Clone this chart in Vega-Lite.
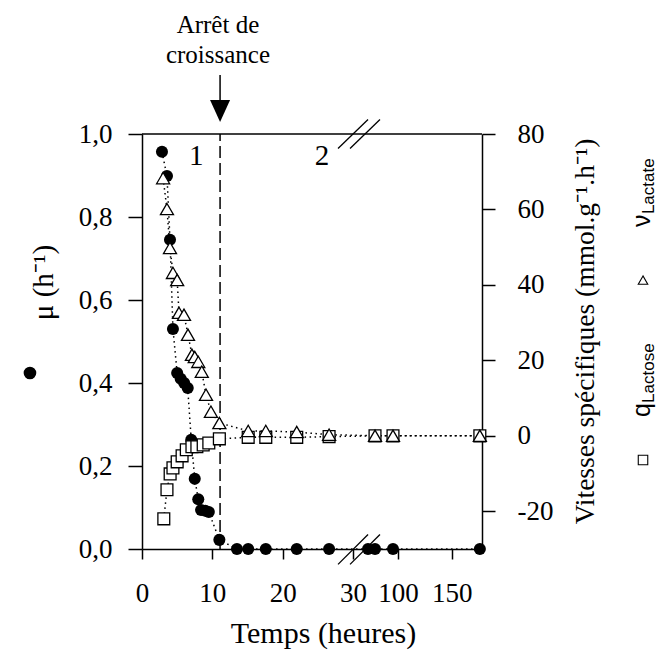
{
  "$schema": "https://vega.github.io/schema/vega-lite/v6.json",
  "width": 340,
  "height": 415,
  "autosize": {"type": "none"},
  "padding": {"left": 142, "top": 134, "right": 176, "bottom": 104},
  "background": "white",
  "data": {"values": [{}]},
  "config": {
    "view": {"stroke": null},
    "axis": {
      "grid": false,
      "domainColor": "black",
      "domainWidth": 1.5,
      "tickColor": "black",
      "tickWidth": 1.5,
      "labelFont": "Liberation Serif",
      "labelFontSize": 27,
      "labelColor": "black",
      "labelFlush": false,
      "labelOverlap": false,
      "labelBound": false,
      "titleFont": "Liberation Serif",
      "titleFontSize": 27,
      "titleFontWeight": "normal",
      "titleColor": "black"
    }
  },
  "datasets": {
    "mu": [
      {"t": 2.84, "mu": 0.957}, {"t": 3.55, "mu": 0.899}, {"t": 3.98, "mu": 0.745},
      {"t": 4.4, "mu": 0.53}, {"t": 5.0, "mu": 0.424}, {"t": 5.5, "mu": 0.41},
      {"t": 6.0, "mu": 0.4}, {"t": 6.5, "mu": 0.388}, {"t": 7.0, "mu": 0.263},
      {"t": 7.5, "mu": 0.169}, {"t": 8.0, "mu": 0.12}, {"t": 8.4, "mu": 0.094},
      {"t": 9.0, "mu": 0.092}, {"t": 9.5, "mu": 0.089}, {"t": 11.0, "mu": 0.022},
      {"t": 13.5, "mu": 0}, {"t": 15.1, "mu": 0}, {"t": 17.6, "mu": 0},
      {"t": 22.0, "mu": 0}, {"t": 26.6, "mu": 0}, {"t": 72.1, "mu": 0},
      {"t": 78.6, "mu": 0}, {"t": 95.3, "mu": 0}, {"t": 176, "mu": 0}
    ],
    "vit": [
      {"t": 3.1, "serie": "qLactose", "v": -22.0}, {"t": 3.55, "serie": "qLactose", "v": -14.3},
      {"t": 4.0, "serie": "qLactose", "v": -10.1}, {"t": 4.4, "serie": "qLactose", "v": -8.5},
      {"t": 5.0, "serie": "qLactose", "v": -6.9}, {"t": 5.7, "serie": "qLactose", "v": -5.3},
      {"t": 6.3, "serie": "qLactose", "v": -3.7}, {"t": 7.1, "serie": "qLactose", "v": -2.9},
      {"t": 7.8, "serie": "qLactose", "v": -2.9}, {"t": 8.7, "serie": "qLactose", "v": -2.4},
      {"t": 9.5, "serie": "qLactose", "v": -1.9}, {"t": 11.0, "serie": "qLactose", "v": -0.8},
      {"t": 15.1, "serie": "qLactose", "v": -0.4}, {"t": 17.6, "serie": "qLactose", "v": -0.4},
      {"t": 22.0, "serie": "qLactose", "v": -0.4}, {"t": 26.6, "serie": "qLactose", "v": -0.2},
      {"t": 78.6, "serie": "qLactose", "v": 0}, {"t": 95.3, "serie": "qLactose", "v": 0},
      {"t": 176, "serie": "qLactose", "v": 0},
      {"t": 3.0, "serie": "vLactate", "v": 68.3}, {"t": 3.55, "serie": "vLactate", "v": 60.1},
      {"t": 3.98, "serie": "vLactate", "v": 49.8}, {"t": 4.4, "serie": "vLactate", "v": 43.2},
      {"t": 5.0, "serie": "vLactate", "v": 41.3}, {"t": 5.26, "serie": "vLactate", "v": 32.6},
      {"t": 5.97, "serie": "vLactate", "v": 32.1}, {"t": 6.54, "serie": "vLactate", "v": 26.8},
      {"t": 7.1, "serie": "vLactate", "v": 21.5}, {"t": 7.5, "serie": "vLactate", "v": 20.9},
      {"t": 8.0, "serie": "vLactate", "v": 19.6}, {"t": 8.5, "serie": "vLactate", "v": 17.0},
      {"t": 9.1, "serie": "vLactate", "v": 10.9}, {"t": 9.8, "serie": "vLactate", "v": 6.4},
      {"t": 11.0, "serie": "vLactate", "v": 3.4}, {"t": 15.1, "serie": "vLactate", "v": 1.3},
      {"t": 17.6, "serie": "vLactate", "v": 1.3}, {"t": 22.0, "serie": "vLactate", "v": 1.0},
      {"t": 26.6, "serie": "vLactate", "v": 0.3}, {"t": 78.6, "serie": "vLactate", "v": 0},
      {"t": 95.3, "serie": "vLactate", "v": 0}, {"t": 176, "serie": "vLactate", "v": 0}
    ]
  },
  "layer": [
    {
      "layer": [
        {
          "data": {"name": "mu"},
          "mark": {"type": "line", "color": "black", "strokeWidth": 1.5, "strokeDash": [1.5, 3.5]},
          "encoding": {
            "x": {
              "field": "t", "type": "quantitative",
              "scale": {"domain": [0, 30, 60, 178], "range": [0, 211, 213, 340], "nice": false, "zero": false},
              "axis": {"values": [0, 10, 20, 30, 100, 150], "labelExpr": "'' + datum.value", "tickSize": 10, "labelPadding": 21,
                       "title": "Temps (heures)", "titleFontSize": 30, "titleX": 181, "titleY": 93, "titleBaseline": "alphabetic", "titleAlign": "center"}
            },
            "y": {
              "field": "mu", "type": "quantitative",
              "scale": {"domain": [0, 1], "nice": false, "zero": false},
              "axis": {"orient": "left", "values": [0, 0.2, 0.4, 0.6, 0.8, 1.0],
                       "labelExpr": "replace(format(datum.value, '.1f'), '.', ',')",
                       "tickSize": 14, "labelPadding": 16,
                       "title": "μ (h⁻¹)", "titleFontSize": 29, "titleAngle": 270, "titleX": -99, "titleY": 148,
                       "titleBaseline": "middle", "titleAlign": "center"}
            }
          }
        },
        {
          "mark": {"type": "rule", "color": "black", "strokeWidth": 1.5, "strokeDash": [12, 5]},
          "encoding": {
            "x": {"datum": 11.1, "type": "quantitative"},
            "y": {"datum": 0, "type": "quantitative"},
            "y2": {"datum": 1}
          }
        },
        {
          "mark": {"type": "rule", "color": "black", "strokeWidth": 1.5},
          "encoding": {
            "x": {"datum": 0, "type": "quantitative"},
            "x2": {"datum": 178},
            "y": {"datum": 1, "type": "quantitative"}
          }
        },
        {
          "mark": {"type": "rule", "color": "black", "strokeWidth": 1.3},
          "encoding": {
            "x": {"datum": 27.87, "type": "quantitative"},
            "x2": {"datum": 72.1},
            "y": {"datum": 0.965, "type": "quantitative"},
            "y2": {"datum": 1.035}
          }
        },
        {
          "mark": {"type": "rule", "color": "black", "strokeWidth": 1.3},
          "encoding": {
            "x": {"datum": 29.58, "type": "quantitative"},
            "x2": {"datum": 83.2},
            "y": {"datum": 0.965, "type": "quantitative"},
            "y2": {"datum": 1.035}
          }
        },
        {
          "mark": {"type": "rule", "color": "black", "strokeWidth": 1.3},
          "encoding": {
            "x": {"datum": 27.87, "type": "quantitative"},
            "x2": {"datum": 72.1},
            "y": {"datum": -0.037, "type": "quantitative"},
            "y2": {"datum": 0.035}
          }
        },
        {
          "mark": {"type": "rule", "color": "black", "strokeWidth": 1.3},
          "encoding": {
            "x": {"datum": 29.58, "type": "quantitative"},
            "x2": {"datum": 83.2},
            "y": {"datum": -0.037, "type": "quantitative"},
            "y2": {"datum": 0.035}
          }
        },
        {
          "data": {"name": "mu"},
          "mark": {"type": "point", "shape": "circle", "filled": true, "color": "black", "size": 145, "opacity": 1},
          "encoding": {
            "x": {"field": "t", "type": "quantitative"},
            "y": {"field": "mu", "type": "quantitative"}
          }
        },
        {
          "mark": {"type": "rule", "color": "black", "strokeWidth": 1.5},
          "encoding": {
            "x": {"datum": 11.1, "type": "quantitative"},
            "y": {"datum": 1.142, "type": "quantitative"},
            "y2": {"datum": 1.06}
          }
        },
        {
          "mark": {"type": "point", "shape": "M-1,-1L1,-1L0,1.2Z", "filled": true, "color": "black", "size": 400, "opacity": 1},
          "encoding": {
            "x": {"datum": 11.1, "type": "quantitative"},
            "y": {"datum": 1.058, "type": "quantitative"}
          }
        },
        {
          "mark": {"type": "text", "font": "Liberation Serif", "fontSize": 25, "align": "center", "baseline": "alphabetic", "color": "black", "text": "Arrêt de"},
          "encoding": {
            "x": {"datum": 10.8, "type": "quantitative"},
            "y": {"datum": 1.243, "type": "quantitative"}
          }
        },
        {
          "mark": {"type": "text", "font": "Liberation Serif", "fontSize": 25, "align": "center", "baseline": "alphabetic", "color": "black", "text": "croissance"},
          "encoding": {
            "x": {"datum": 10.8, "type": "quantitative"},
            "y": {"datum": 1.171, "type": "quantitative"}
          }
        },
        {
          "mark": {"type": "text", "font": "Liberation Serif", "fontSize": 29, "align": "center", "baseline": "alphabetic", "color": "black", "text": "1"},
          "encoding": {
            "x": {"datum": 7.7, "type": "quantitative"},
            "y": {"datum": 0.925, "type": "quantitative"}
          }
        },
        {
          "mark": {"type": "text", "font": "Liberation Serif", "fontSize": 29, "align": "center", "baseline": "alphabetic", "color": "black", "text": "2"},
          "encoding": {
            "x": {"datum": 25.6, "type": "quantitative"},
            "y": {"datum": 0.925, "type": "quantitative"}
          }
        },
        {
          "mark": {"type": "point", "shape": "circle", "filled": true, "color": "black", "size": 160, "opacity": 1},
          "encoding": {
            "x": {"datum": -15.93, "type": "quantitative"},
            "y": {"datum": 0.424, "type": "quantitative"}
          }
        },
        {
          "mark": {"type": "point", "shape": "square", "filled": false, "fill": "white", "stroke": "black", "strokeWidth": 1.1, "size": 90, "opacity": 1},
          "encoding": {
            "x": {"datum": 327.6, "type": "quantitative"},
            "y": {"datum": 0.2145, "type": "quantitative"}
          }
        },
        {
          "mark": {"type": "point", "shape": "triangle-up", "filled": false, "fill": "white", "stroke": "black", "strokeWidth": 1.1, "size": 90, "opacity": 1},
          "encoding": {
            "x": {"datum": 327.6, "type": "quantitative"},
            "y": {"datum": 0.648, "type": "quantitative"}
          }
        },
        {
          "mark": {"type": "text", "font": "Liberation Sans", "fontSize": 25, "angle": 270, "align": "left", "baseline": "alphabetic", "color": "black", "text": "q"},
          "encoding": {
            "x": {"datum": 334.1, "type": "quantitative"},
            "y": {"datum": 0.318, "type": "quantitative"}
          }
        },
        {
          "mark": {"type": "text", "font": "Liberation Sans", "fontSize": 17, "angle": 270, "align": "left", "baseline": "alphabetic", "color": "black", "text": "Lactose"},
          "encoding": {
            "x": {"datum": 337.8, "type": "quantitative"},
            "y": {"datum": 0.352, "type": "quantitative"}
          }
        },
        {
          "mark": {"type": "text", "font": "Liberation Sans", "fontSize": 25, "angle": 270, "align": "left", "baseline": "alphabetic", "color": "black", "text": "ν"},
          "encoding": {
            "x": {"datum": 334.1, "type": "quantitative"},
            "y": {"datum": 0.776, "type": "quantitative"}
          }
        },
        {
          "mark": {"type": "text", "font": "Liberation Sans", "fontSize": 17, "angle": 270, "align": "left", "baseline": "alphabetic", "color": "black", "text": "Lactate"},
          "encoding": {
            "x": {"datum": 337.8, "type": "quantitative"},
            "y": {"datum": 0.807, "type": "quantitative"}
          }
        }
      ]
    },
    {
      "data": {"name": "vit"},
      "layer": [
        {
          "mark": {"type": "line", "color": "black", "strokeWidth": 1.5, "strokeDash": [1.5, 3.5]},
          "encoding": {
            "x": {"field": "t", "type": "quantitative"},
            "y": {"field": "v", "type": "quantitative", "axis": {"orient": "right"}},
            "detail": {"field": "serie"}
          }
        },
        {
          "transform": [{"filter": "datum.serie === 'qLactose'"}],
          "mark": {"type": "point", "shape": "square", "filled": false, "fill": "white", "stroke": "black", "strokeWidth": 1.3, "size": 140, "opacity": 1},
          "encoding": {
            "x": {"field": "t", "type": "quantitative"},
            "y": {"field": "v", "type": "quantitative", "axis": {"orient": "right"}}
          }
        },
        {
          "transform": [{"filter": "datum.serie === 'vLactate'"}],
          "mark": {"type": "point", "shape": "triangle-up", "filled": false, "fill": "white", "stroke": "black", "strokeWidth": 1.3, "size": 170, "opacity": 1},
          "encoding": {
            "x": {"field": "t", "type": "quantitative"},
            "y": {
              "field": "v", "type": "quantitative",
              "scale": {"domain": [-30, 80], "nice": false, "zero": false},
              "axis": {"orient": "right", "values": [-20, 0, 20, 40, 60, 80], "labelExpr": "'' + datum.value",
                       "tickSize": 13, "labelPadding": 22, "labelAlign": "left",
                       "title": "Vitesses spécifiques (mmol.g⁻¹.h⁻¹)", "titleFontSize": 27.5, "titleAngle": 270, "titleX": 103, "titleY": 197,
                       "titleBaseline": "middle", "titleAlign": "center"}
            }
          }
        }
      ]
    }
  ],
  "resolve": {"scale": {"y": "independent"}}
}
